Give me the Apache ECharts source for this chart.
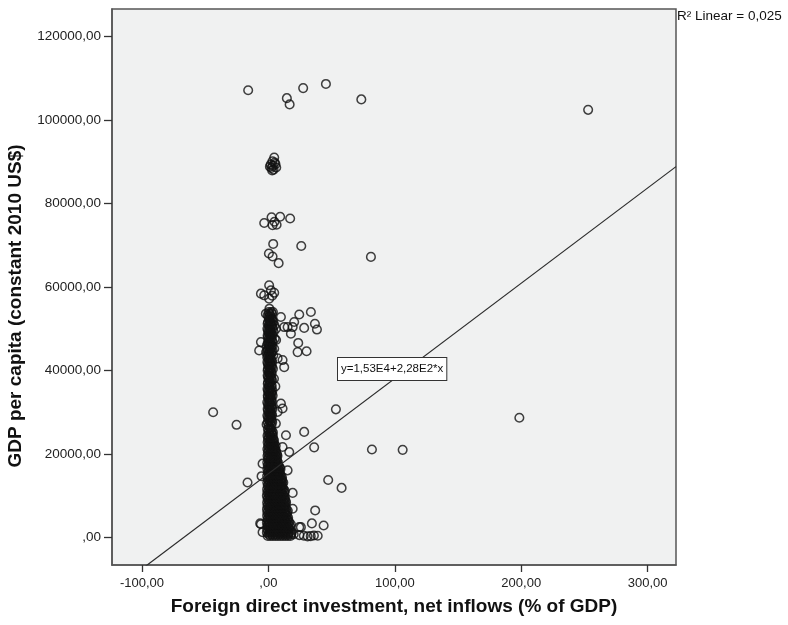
<!DOCTYPE html>
<html>
<head>
<meta charset="utf-8">
<title>GDP per capita vs FDI net inflows</title>
<script src="https://cdn.jsdelivr.net/npm/echarts@6/dist/echarts.min.js"></script>
<style>
  html, body { margin: 0; padding: 0; background: #ffffff; }
  #chart { width: 788px; height: 625px; }
</style>
</head>
<body>
<div id="chart"></div>
<script>
// Axis ticks (x: FDI % of GDP, y: GDP per capita, constant 2010 US$)
const xTicks = [-100, 0, 100, 200, 300];
const yTicks = [0, 20000, 40000, 60000, 80000, 100000, 120000];

// Linear fit reported on the chart: y = 1,53E4 + 2,28E2 * x
const fitIntercept = 15300;
const fitSlope = 228;
const rSquared = '0,025';

// Observations: [FDI net inflows %, GDP per capita]
const topOutliers = [
  [-16.0, 107100], [14.6, 105200], [16.8, 103700], [27.5, 107600],
  [45.5, 108600], [73.5, 104900], [252.9, 102400]
];
const highCluster = [
  [4.6, 91000], [3.2, 90100], [1.8, 89300], [3.5, 89000], [5.6, 89400],
  [2.4, 88500], [4.1, 88100], [6.2, 88600], [1.2, 88800], [3.0, 87900], [5.0, 89800]
];
const upperGroups = [
  [-3.3, 75300], [2.5, 76700], [9.3, 76800], [17.2, 76400], [3.3, 74800], [6.5, 74900], [4.8, 75600],
  [3.8, 70300], [26.0, 69800], [0.4, 68000], [3.3, 67300], [8.1, 65700], [81.1, 67200],
  [-5.9, 58400], [0.6, 60400], [2.0, 59200], [4.6, 58600], [0.6, 57200], [-3.3, 58000], [3.0, 57900]
];
const midSpread = [
  [24.4, 53400], [33.6, 54000], [36.8, 51200], [38.4, 49800], [28.3, 50200], [20.4, 51600],
  [19.2, 50400], [17.8, 48800], [12.5, 50400], [15.2, 50400], [23.6, 46600], [23.1, 44400],
  [30.2, 44600], [11.2, 42500], [12.5, 40800], [7.3, 42900], [9.9, 52800], [-5.9, 46800],
  [-7.3, 44800], [-2.0, 53600], [9.9, 32100], [11.2, 30900], [7.3, 30100], [5.5, 36200], [6.1, 47300]
];
const lowSpread = [
  [53.4, 30700], [28.3, 25300], [36.2, 21600], [81.9, 21100], [106.2, 21000], [198.5, 28700],
  [47.3, 13800], [57.9, 11900], [37.0, 6500], [34.4, 3400], [43.7, 2900], [25.7, 2500],
  [-43.7, 30000], [-25.2, 27000], [-16.5, 13200], [-5.9, 3200], [-4.6, 1300], [-4.6, 17700],
  [-5.4, 14700], [-1.4, 27100], [5.9, 27300], [16.5, 20500], [11.2, 21700], [13.9, 24500],
  [15.2, 16100], [19.2, 10700], [19.2, 6900], [24.4, 2500], [-6.5, 3400],
  [24.5, 600], [28.0, 450], [31.0, 300], [33.5, 350], [36.0, 500], [39.0, 450]
];
const columnUpper = [
  [-0.5, 27600], [1.5, 27600], [3.0, 27600], [0.0, 28400], [2.2, 28400],
  [-0.8, 29200], [1.2, 29200], [2.8, 29200], [0.3, 30000], [2.0, 30000],
  [-0.6, 30800], [1.4, 30800], [3.2, 30800], [0.1, 31600], [2.3, 31600],
  [-0.9, 32400], [1.0, 32400], [2.6, 32400], [0.4, 33200], [2.1, 33200],
  [-0.5, 34000], [1.6, 34000], [3.4, 34000], [0.0, 34800], [2.4, 34800],
  [-0.7, 35600], [1.3, 35600], [0.5, 36400], [2.6, 36400], [-0.3, 37200], [1.8, 37200],
  [0.2, 38000], [2.5, 38000], [4.4, 38000], [-0.6, 38800], [1.4, 38800],
  [0.4, 39600], [2.2, 39600], [-0.4, 40400], [1.6, 40400], [3.6, 40400],
  [0.0, 41200], [2.4, 41200], [-0.8, 42000], [1.2, 42000], [3.0, 42000],
  [0.3, 42800], [2.1, 42800], [-0.5, 43600], [1.5, 43600], [3.8, 43600],
  [-1.8, 44400], [0.6, 44400], [2.6, 44400], [-0.2, 45200], [1.8, 45200], [4.6, 45200],
  [-1.2, 46000], [0.8, 46000], [2.8, 46000], [-0.4, 46800], [1.6, 46800], [3.4, 46800],
  [0.2, 47600], [2.2, 47600], [5.0, 47600], [-0.6, 48400], [1.4, 48400], [3.2, 48400],
  [0.0, 49200], [2.0, 49200], [4.2, 49200], [-0.8, 50000], [1.2, 50000], [3.6, 50000], [6.0, 50000],
  [0.4, 50800], [2.4, 50800], [4.8, 50800], [-0.3, 51600], [1.7, 51600], [3.9, 51600],
  [0.6, 52400], [2.6, 52400], [-0.5, 53200], [1.5, 53200], [0.2, 54000], [2.2, 54000], [3.6, 54000],
  [0.8, 54800]
];
const columnUpperB = [
  [0.8, 28000], [2.6, 28000], [-0.2, 28800], [1.6, 28800], [0.9, 29600], [2.7, 29600],
  [-0.3, 30400], [1.5, 30400], [0.7, 31200], [2.8, 31200], [-0.2, 32000], [1.6, 32000],
  [0.9, 32800], [2.7, 32800], [-0.4, 33600], [1.4, 33600], [0.8, 34400], [2.6, 34400],
  [-0.2, 35200], [1.6, 35200], [3.2, 35200], [0.6, 36000], [2.4, 36000], [-0.5, 36800], [1.2, 36800],
  [0.8, 37600], [2.8, 37600], [-0.2, 38400], [1.8, 38400], [0.9, 39200], [2.6, 39200],
  [-0.6, 40000], [1.2, 40000], [0.7, 40800], [2.8, 40800], [-0.3, 41600], [1.6, 41600],
  [0.6, 42400], [2.6, 42400], [-0.9, 43200], [1.0, 43200], [0.2, 44000], [2.2, 44000],
  [-0.9, 44800], [1.2, 44800], [3.2, 44800], [0.6, 45600], [2.6, 45600], [-0.2, 46400], [1.8, 46400],
  [0.8, 47200], [2.8, 47200], [-0.4, 48000], [1.6, 48000], [0.6, 48800], [2.6, 48800],
  [-0.2, 49600], [1.4, 49600], [1.0, 50400], [3.0, 50400], [-0.6, 51200], [1.2, 51200], [2.8, 51200],
  [0.9, 52000], [3.2, 52000], [0.2, 52800], [2.0, 52800], [0.8, 53600], [2.8, 53600]
];
const columnLower = [
  [-0.5, 400], [1.5, 400], [3.5, 400], [5.5, 400], [7.5, 400], [9.5, 400], [11.5, 400], [13.5, 400], [15.5, 400], [17.5, 400],
  [-1.2, 1200], [0.8, 1200], [2.8, 1200], [4.8, 1200], [7.0, 1200], [9.2, 1200], [11.4, 1200], [13.6, 1200], [16.0, 1200], [18.4, 1200],
  [-1.0, 2000], [1.2, 2000], [3.4, 2000], [5.6, 2000], [7.8, 2000], [10.0, 2000], [12.2, 2000], [14.4, 2000], [16.8, 2000],
  [-0.8, 2800], [1.4, 2800], [3.6, 2800], [5.8, 2800], [8.0, 2800], [10.2, 2800], [12.4, 2800], [14.6, 2800], [17.0, 2800],
  [-1.2, 3600], [1.0, 3600], [3.2, 3600], [5.4, 3600], [7.6, 3600], [9.8, 3600], [12.0, 3600], [14.2, 3600], [16.4, 3600],
  [-0.6, 4400], [1.6, 4400], [3.8, 4400], [6.0, 4400], [8.2, 4400], [10.4, 4400], [12.6, 4400], [15.0, 4400],
  [-1.0, 5200], [1.2, 5200], [3.4, 5200], [5.6, 5200], [7.8, 5200], [10.0, 5200], [12.2, 5200], [14.6, 5200],
  [-0.8, 6000], [1.4, 6000], [3.6, 6000], [5.8, 6000], [8.0, 6000], [10.2, 6000], [12.6, 6000], [14.8, 6000],
  [-1.1, 6800], [1.1, 6800], [3.3, 6800], [5.5, 6800], [7.7, 6800], [9.9, 6800], [12.1, 6800], [14.3, 6800],
  [-0.7, 7600], [1.5, 7600], [3.7, 7600], [5.9, 7600], [8.1, 7600], [10.3, 7600], [12.7, 7600],
  [-1.0, 8400], [1.2, 8400], [3.4, 8400], [5.6, 8400], [7.8, 8400], [10.0, 8400], [12.4, 8400], [14.0, 8400],
  [-0.6, 9200], [1.6, 9200], [3.8, 9200], [6.0, 9200], [8.2, 9200], [10.4, 9200], [12.8, 9200],
  [-1.2, 10000], [1.0, 10000], [3.2, 10000], [5.4, 10000], [7.6, 10000], [9.8, 10000], [12.2, 10000],
  [-0.8, 10800], [1.4, 10800], [3.6, 10800], [5.8, 10800], [8.0, 10800], [10.2, 10800], [12.6, 10800],
  [-1.0, 11600], [1.2, 11600], [3.4, 11600], [5.6, 11600], [7.8, 11600], [10.0, 11600], [12.0, 11600],
  [-0.5, 12400], [1.7, 12400], [3.9, 12400], [6.1, 12400], [8.3, 12400], [10.5, 12400],
  [-0.9, 13200], [1.3, 13200], [3.5, 13200], [5.7, 13200], [7.9, 13200], [10.1, 13200], [11.8, 13200],
  [-0.6, 14000], [1.6, 14000], [3.8, 14000], [6.0, 14000], [8.2, 14000], [10.4, 14000],
  [-1.0, 14800], [1.2, 14800], [3.4, 14800], [5.6, 14800], [7.8, 14800], [9.8, 14800],
  [-0.4, 15600], [1.8, 15600], [4.0, 15600], [6.2, 15600], [8.4, 15600],
  [-0.8, 16400], [1.4, 16400], [3.6, 16400], [5.8, 16400], [8.0, 16400], [9.6, 16400],
  [-0.5, 17200], [1.7, 17200], [3.9, 17200], [6.1, 17200], [8.1, 17200],
  [-0.9, 18000], [1.3, 18000], [3.5, 18000], [5.7, 18000], [7.6, 18000],
  [-0.3, 18800], [1.9, 18800], [4.1, 18800], [6.3, 18800],
  [-0.7, 19600], [1.5, 19600], [3.7, 19600], [5.9, 19600], [7.2, 19600],
  [-0.4, 20400], [1.8, 20400], [4.0, 20400], [6.0, 20400],
  [-0.8, 21200], [1.4, 21200], [3.6, 21200], [5.4, 21200],
  [-0.2, 22000], [2.0, 22000], [4.2, 22000], [5.8, 22000],
  [-0.6, 22800], [1.6, 22800], [3.8, 22800],
  [-0.3, 23600], [1.9, 23600], [4.0, 23600],
  [-0.7, 24400], [1.5, 24400], [3.5, 24400],
  [0.0, 25200], [2.2, 25200], [3.6, 25200],
  [-0.4, 26000], [1.8, 26000], [0.2, 26800], [2.4, 26800]
];
const columnLowerB = [
  [0.3, 800], [2.5, 800], [4.7, 800], [6.9, 800], [9.1, 800], [11.3, 800], [13.5, 800], [15.7, 800], [18.0, 800], [20.0, 800],
  [-0.1, 1600], [2.1, 1600], [4.3, 1600], [6.5, 1600], [8.7, 1600], [10.9, 1600], [13.1, 1600], [15.3, 1600], [17.6, 1600],
  [0.2, 2400], [2.4, 2400], [4.6, 2400], [6.8, 2400], [9.0, 2400], [11.2, 2400], [13.4, 2400], [15.8, 2400],
  [-0.2, 3200], [2.0, 3200], [4.2, 3200], [6.4, 3200], [8.6, 3200], [10.8, 3200], [13.0, 3200], [15.4, 3200], [17.8, 3200],
  [0.4, 4000], [2.6, 4000], [4.8, 4000], [7.0, 4000], [9.2, 4000], [11.4, 4000], [13.8, 4000], [16.0, 4000],
  [0.0, 4800], [2.2, 4800], [4.4, 4800], [6.6, 4800], [8.8, 4800], [11.0, 4800], [13.4, 4800], [15.6, 4800],
  [0.3, 5600], [2.5, 5600], [4.7, 5600], [6.9, 5600], [9.1, 5600], [11.3, 5600], [13.7, 5600],
  [-0.1, 6400], [2.1, 6400], [4.3, 6400], [6.5, 6400], [8.7, 6400], [10.9, 6400], [13.2, 6400], [15.4, 6400],
  [0.4, 7200], [2.6, 7200], [4.8, 7200], [7.0, 7200], [9.2, 7200], [11.4, 7200], [13.6, 7200],
  [0.0, 8000], [2.2, 8000], [4.4, 8000], [6.6, 8000], [8.8, 8000], [11.2, 8000], [13.4, 8000],
  [0.5, 8800], [2.7, 8800], [4.9, 8800], [7.1, 8800], [9.3, 8800], [11.6, 8800], [13.6, 8800],
  [-0.1, 9600], [2.1, 9600], [4.3, 9600], [6.5, 9600], [8.7, 9600], [11.0, 9600], [13.0, 9600],
  [0.3, 10400], [2.5, 10400], [4.7, 10400], [6.9, 10400], [9.1, 10400], [11.4, 10400],
  [0.1, 11200], [2.3, 11200], [4.5, 11200], [6.7, 11200], [8.9, 11200], [11.1, 11200], [13.0, 11200],
  [0.6, 12000], [2.8, 12000], [5.0, 12000], [7.2, 12000], [9.4, 12000], [11.2, 12000],
  [0.2, 12800], [2.4, 12800], [4.6, 12800], [6.8, 12800], [9.0, 12800], [11.0, 12800],
  [0.5, 13600], [2.7, 13600], [4.9, 13600], [7.1, 13600], [9.3, 13600], [11.0, 13600],
  [0.1, 14400], [2.3, 14400], [4.5, 14400], [6.7, 14400], [8.9, 14400], [10.8, 14400],
  [0.4, 15200], [2.6, 15200], [4.8, 15200], [7.0, 15200], [9.0, 15200],
  [0.3, 16000], [2.5, 16000], [4.7, 16000], [6.9, 16000], [8.8, 16000],
  [0.6, 16800], [2.8, 16800], [5.0, 16800], [7.0, 16800], [9.0, 16800],
  [0.2, 17600], [2.4, 17600], [4.6, 17600], [6.8, 17600],
  [0.6, 18400], [2.8, 18400], [5.0, 18400], [6.9, 18400],
  [0.4, 19200], [2.6, 19200], [4.8, 19200], [6.6, 19200],
  [0.7, 20000], [2.9, 20000], [5.0, 20000], [6.8, 20000],
  [0.3, 20800], [2.5, 20800], [4.7, 20800], [6.0, 20800],
  [0.6, 21600], [2.8, 21600], [4.8, 21600],
  [0.5, 22400], [2.7, 22400], [4.6, 22400],
  [0.8, 23200], [2.8, 23200], [4.4, 23200],
  [0.4, 24000], [2.6, 24000], [1.0, 24800], [2.9, 24800],
  [0.6, 25600], [2.7, 25600], [1.1, 26400]
];

const xMin = -123.7, xMax = 322.4;
const yMin = -6560, yMax = 126540;

const points = [].concat(
  topOutliers, highCluster, upperGroups, midSpread, lowSpread,
  columnUpper, columnUpperB, columnLower, columnLowerB
);
const fitLine = [
  [xMin, fitIntercept + fitSlope * xMin],
  [xMax, fitIntercept + fitSlope * xMax]
];

const fmt = v => (v === 0 ? ',00' : String(v) + ',00');
const labelFont = 'Liberation Sans, Arial, sans-serif';

const chart = echarts.init(document.getElementById('chart'), null, { renderer: 'canvas' });
chart.setOption({
  animation: false,
  backgroundColor: '#ffffff',
  grid: {
    left: 112, right: 112, top: 9, bottom: 60,
    show: true, backgroundColor: '#f0f1f1', borderColor: '#555555', borderWidth: 1.5
  },
  xAxis: {
    type: 'value', min: xMin, max: xMax,
    splitLine: { show: false },
    axisLine: { show: true, onZero: false, lineStyle: { color: '#555555', width: 1.5 } },
    axisTick: { show: true, length: 7, customValues: xTicks, lineStyle: { color: '#333333', width: 1.3 } },
    axisLabel: {
      customValues: xTicks, formatter: fmt, margin: 12,
      color: '#222222', fontSize: 13, fontFamily: labelFont
    }
  },
  yAxis: {
    type: 'value', min: yMin, max: yMax,
    splitLine: { show: false },
    axisLine: { show: true, onZero: false, lineStyle: { color: '#555555', width: 1.5 } },
    axisTick: { show: true, length: 8, customValues: yTicks, lineStyle: { color: '#333333', width: 1.3 } },
    axisLabel: {
      customValues: yTicks, formatter: fmt, margin: 11,
      color: '#222222', fontSize: 13.5, fontFamily: labelFont
    }
  },
  series: [
    {
      type: 'scatter',
      data: points,
      symbol: 'circle',
      symbolSize: 8.6,
      large: false,
      itemStyle: { color: 'rgba(0,0,0,0)', borderColor: '#111111', borderWidth: 1.5 },
      z: 3
    },
    {
      type: 'line',
      data: fitLine,
      showSymbol: false,
      clip: true,
      lineStyle: { color: '#2a2a2a', width: 1.2 },
      z: 4
    }
  ],
  graphic: [
    {
      type: 'text', left: 337, top: 357, z: 10,
      style: {
        text: 'y=1,53E4+2,28E2*x',
        font: '11.5px ' + labelFont, fill: '#111111',
        backgroundColor: '#ffffff', borderColor: '#333333', borderWidth: 1,
        padding: [5, 3, 5, 3]
      }
    },
    {
      type: 'text', left: 677, top: 9, z: 10,
      style: { text: 'R\u00B2 Linear = ' + rSquared, font: '13.5px ' + labelFont, fill: '#111111' }
    },
    {
      type: 'text', left: 'center', top: 597, z: 10,
      style: {
        text: 'Foreign direct investment, net inflows (% of GDP)',
        font: 'bold 19px ' + labelFont, fill: '#111111'
      }
    },
    {
      type: 'text', x: 16, y: 306, rotation: Math.PI / 2, z: 10,
      style: {
        text: 'GDP per capita (constant 2010 US$)',
        font: 'bold 19px ' + labelFont, fill: '#111111',
        align: 'center', verticalAlign: 'middle'
      }
    }
  ]
});
</script>
</body>
</html>
